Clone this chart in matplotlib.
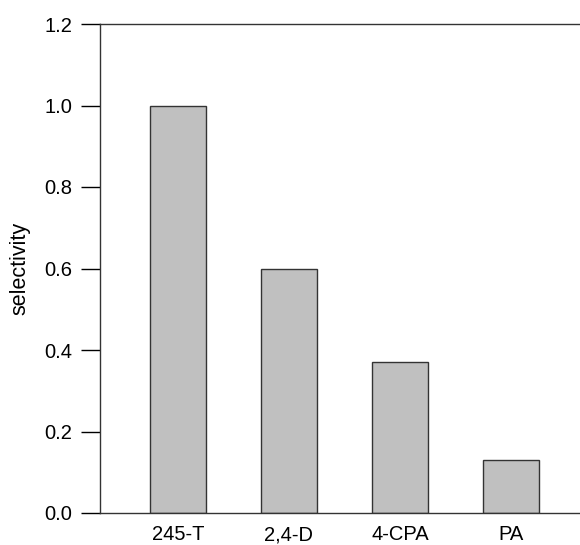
import matplotlib
matplotlib.use("Agg")
import matplotlib.pyplot as plt

categories = ["245-T", "2,4-D", "4-CPA", "PA"]
selectivity = [1.0, 0.60, 0.37, 0.13]
yticks = [0.0, 0.2, 0.4, 0.6, 0.8, 1.0, 1.2]

plt.rcParams['font.family'] = ['Liberation Sans', 'DejaVu Sans']
fig = plt.figure(figsize=(5.8, 5.45), dpi=100)
ax = fig.add_axes([100/580, 32/545, 480/580, 489/545])
x = list(range(len(categories)))
ax.bar(x, selectivity, width=0.5, color='#c0c0c0', edgecolor='#333333', linewidth=1.0)
ax.set_xlim(-0.7, 3.62)
ax.set_ylim(0, 1.2)
ax.set_yticks(yticks)
ax.set_yticklabels([f"{v:.1f}" for v in yticks])
ax.set_xticks(x)
ax.set_xticklabels(categories)
ax.tick_params(axis='y', direction='out', length=14, width=1.0, labelsize=14.5, pad=6)
ax.tick_params(axis='x', length=0, labelsize=14.5, pad=9)
ax.spines['right'].set_visible(False)
for s in ['left', 'top', 'bottom']:
    ax.spines[s].set_linewidth(1.0)
    ax.spines[s].set_color('#333333')
ax.set_ylabel("selectivity", fontsize=15.5, labelpad=10)
fig.savefig("out.png", dpi=100)
